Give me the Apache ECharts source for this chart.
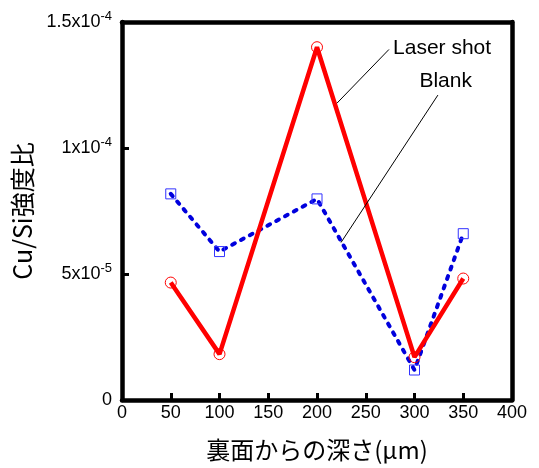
<!DOCTYPE html>
<html>
<head>
<meta charset="utf-8">
<script src="https://cdn.jsdelivr.net/npm/echarts@6/dist/echarts.min.js"></script>
<style>
  html, body { margin: 0; padding: 0; background: #fff; }
  #chart { width: 539px; height: 468px; }
</style>
</head>
<body>
<div id="chart"></div>
<script>
// depth from the back surface (um)
const depths = [50, 100, 200, 300, 350];
const laserShot = [4.66e-5, 1.82e-5, 1.40e-4, 1.70e-5, 4.82e-5];
const blank = [8.18e-5, 5.89e-5, 7.98e-5, 1.19e-5, 6.60e-5];
// y tick labels: [mantissa, exponent]
const yTickLabels = [['0', ''], ['5x10', '-5'], ['1x10', '-4'], ['1.5x10', '-4']];
// annotation: label, label position, leader line from -> to (data coords)
const notes = [
  { text: 'Laser shot', at: [278, 1.395e-4], align: 'left', from: [273.8, 1.391e-4], to: [220.5, 1.178e-4] },
  { text: 'Blank', at: [332, 1.265e-4], align: 'center', from: [324, 1.21e-4], to: [224.6, 6.25e-5] }
];

const chart = echarts.init(document.getElementById('chart'));
const font = 'Liberation Sans, Arial, sans-serif';
const cjk = '"Noto Sans CJK JP", sans-serif';

// plain lines closing the box on top and right
const frameAxis = {
  show: true,
  axisLine: { show: true, onZero: false, lineStyle: { color: '#000', width: 4.5 } },
  axisTick: { show: false },
  axisLabel: { show: false },
  splitLine: { show: false }
};

const options = {
  animation: false,
  grid: { left: 122, right: 27, top: 22, bottom: 68 },
  xAxis: [
    {
      type: 'value',
      min: 0, max: 400, interval: 50,
      name: '裏面からの深さ(μm)',
      nameLocation: 'middle',
      nameGap: 38,
      nameTextStyle: { fontFamily: cjk, fontSize: 24, color: '#000' },
      axisLine: { onZero: false, lineStyle: { color: '#000', width: 4.5 } },
      axisTick: { inside: true, length: 7, lineStyle: { color: '#000', width: 3 } },
      axisLabel: { fontFamily: font, fontSize: 18, color: '#000', margin: 4 },
      splitLine: { show: false }
    },
    Object.assign({ type: 'value', min: 0, max: 400, position: 'top' }, frameAxis)
  ],
  yAxis: [
    {
      type: 'value',
      min: 0, max: 1.5e-4, interval: 5e-5,
      name: 'Cu/Si強度比',
      nameLocation: 'middle',
      nameGap: 82,
      nameTextStyle: { fontFamily: cjk, fontSize: 25, color: '#000' },
      axisLine: { onZero: false, lineStyle: { color: '#000', width: 4.5 } },
      axisTick: { inside: true, length: 7, lineStyle: { color: '#000', width: 3 } },
      axisLabel: {
        margin: 10,
        color: '#000',
        formatter: function (v) {
          const t = yTickLabels[Math.round(v / 5e-5)];
          if (!t) return '';
          return t[1] ? '{b|' + t[0] + '}{s|' + t[1] + '}' : '{b|' + t[0] + '}';
        },
        rich: {
          b: { fontFamily: font, fontSize: 18, color: '#000' },
          s: { fontFamily: font, fontSize: 13, color: '#000', padding: [0, 0, 12, 0] }
        }
      },
      splitLine: { show: false }
    },
    Object.assign({ type: 'value', min: 0, max: 1.5e-4, position: 'right' }, frameAxis)
  ],
  series: [
    {
      name: 'Blank',
      type: 'line',
      data: depths.map((d, i) => [d, blank[i]]),
      symbol: 'rect',
      symbolSize: 10,
      itemStyle: { color: 'rgba(0,0,0,0)', borderColor: '#3333ff', borderWidth: 1 },
      lineStyle: { color: '#0000dd', width: 4, type: [3, 7], cap: 'round' },
      z: 2
    },
    {
      name: 'Laser shot',
      type: 'line',
      data: depths.map((d, i) => [d, laserShot[i]]),
      symbol: 'circle',
      symbolSize: 11,
      itemStyle: { color: 'rgba(0,0,0,0)', borderColor: '#ff0000', borderWidth: 1 },
      lineStyle: { color: '#ff0000', width: 4.5 },
      z: 3
    }
  ]
};

chart.setOption(options);

// leader lines and labels placed from data coordinates
const g = [];
notes.forEach(n => {
  const a = chart.convertToPixel({ gridIndex: 0 }, n.from);
  const b = chart.convertToPixel({ gridIndex: 0 }, n.to);
  const p = chart.convertToPixel({ gridIndex: 0 }, n.at);
  g.push({
    type: 'line', z: 10,
    shape: { x1: a[0], y1: a[1], x2: b[0], y2: b[1] },
    style: { stroke: '#000', lineWidth: 1 }
  });
  g.push({
    type: 'text', z: 10, x: p[0], y: p[1],
    style: { text: n.text, fill: '#000', font: '21px ' + font, align: n.align, verticalAlign: 'middle' }
  });
});
chart.setOption({ graphic: g });
</script>
</body>
</html>
